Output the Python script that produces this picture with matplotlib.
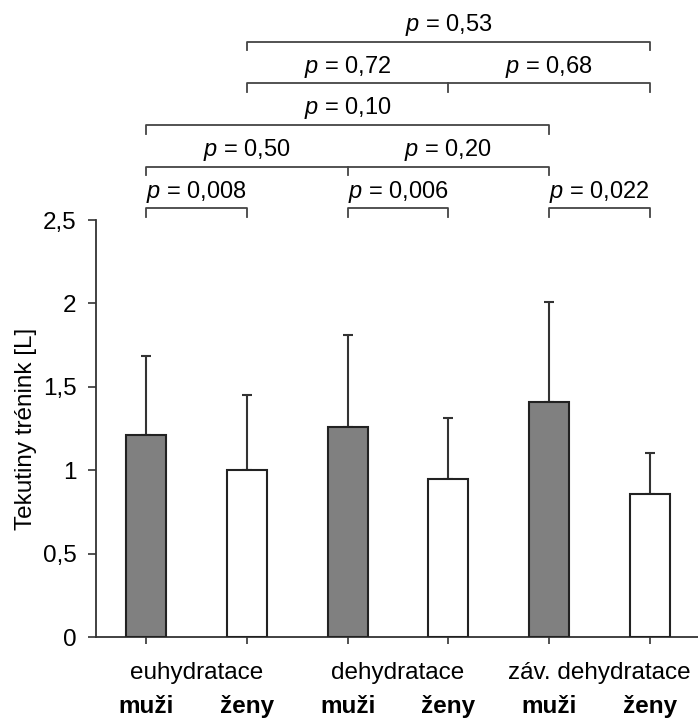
import numpy as np
import matplotlib
matplotlib.use('Agg')
import matplotlib.pyplot as plt

plt.rcParams['font.family'] = ['Liberation Sans', 'DejaVu Sans']
plt.rcParams['mathtext.fontset'] = 'custom'
plt.rcParams['mathtext.rm'] = 'Liberation Sans'
plt.rcParams['mathtext.it'] = 'Liberation Sans:italic'

# data
groups = ['euhydratace', 'dehydratace', 'záv. dehydratace']
sexes = ['muži', 'ženy', 'muži', 'ženy', 'muži', 'ženy']
means = [1.21, 1.00, 1.26, 0.95, 1.41, 0.86]
sds = [0.475, 0.45, 0.55, 0.36, 0.60, 0.245]
yticks = [0, 0.5, 1, 1.5, 2, 2.5]
ytick_labels = ['0', '0,5', '1', '1,5', '2', '2,5']

# brackets: level, start bar, end bar, middle ticks, labels (x, text)
brackets = [
    (0, 0, 1, [], [(0.5, '0,008')]),
    (0, 2, 3, [], [(2.5, '0,006')]),
    (0, 4, 5, [], [(4.5, '0,022')]),
    (1, 0, 4, [2], [(1, '0,50'), (3, '0,20')]),
    (2, 0, 4, [], [(2, '0,10')]),
    (3, 1, 5, [3], [(2, '0,72'), (4, '0,68')]),
    (4, 1, 5, [], [(3, '0,53')]),
]

fig = plt.figure(figsize=(6.98, 7.22), dpi=100)
ax = fig.add_axes([96/698, 85/722, 604/698, 417/722])

x = np.arange(len(means))
colors = ['#808080' if s == 'muži' else 'white' for s in sexes]
ax.bar(x, means, width=0.4, color=colors, edgecolor='#222222', linewidth=1.5, zorder=3)
ax.errorbar(x, means, yerr=[np.zeros(len(sds)), sds], fmt='none', ecolor='#333333',
            elinewidth=1.5, capsize=3.7, capthick=1.5, zorder=2)

ax.set_xlim(-0.5, 5.5)
ax.set_ylim(0, 2.5)
ax.set_yticks(yticks)
ax.set_yticklabels(ytick_labels, fontsize=17.5)
ax.set_xticks(x)
ax.set_xticklabels([])
ax.tick_params(axis='y', direction='out', length=6, width=1.2, pad=8, color='#333333')
ax.tick_params(axis='x', direction='out', length=5, width=1.2, color='#333333')
for s in ['top', 'right']:
    ax.spines[s].set_visible(False)
for s in ['left', 'bottom']:
    ax.spines[s].set_linewidth(1.3)
    ax.spines[s].set_color('#333333')

ax.set_ylabel('Tekutiny trénink [L]', fontsize=17.5)
ax.yaxis.set_label_coords(-0.098, 0.5)

for i, s in enumerate(sexes):
    ax.text(i, -0.418, s, ha='center', va='center', fontsize=17.5, fontweight='bold', clip_on=False)
for g, name in enumerate(groups):
    ax.text(2 * g + 0.5, -0.214, name, ha='center', va='center', fontsize=17.5, clip_on=False)

base = 2.57
step = 0.25
tick = 0.052
for lvl, a, b, mids, labels in brackets:
    y = base + lvl * step
    ax.plot([a, a, b, b], [y - tick, y, y, y - tick], color='#444444', lw=1.3, clip_on=False)
    for m in mids:
        ax.plot([m, m], [y, y - tick], color='#444444', lw=1.3, clip_on=False)
    for lx, txt in labels:
        ax.text(lx, y + 0.1, '$p$ = ' + txt, ha='center', va='center', fontsize=17, clip_on=False)

fig.savefig('out.png', dpi=100)
